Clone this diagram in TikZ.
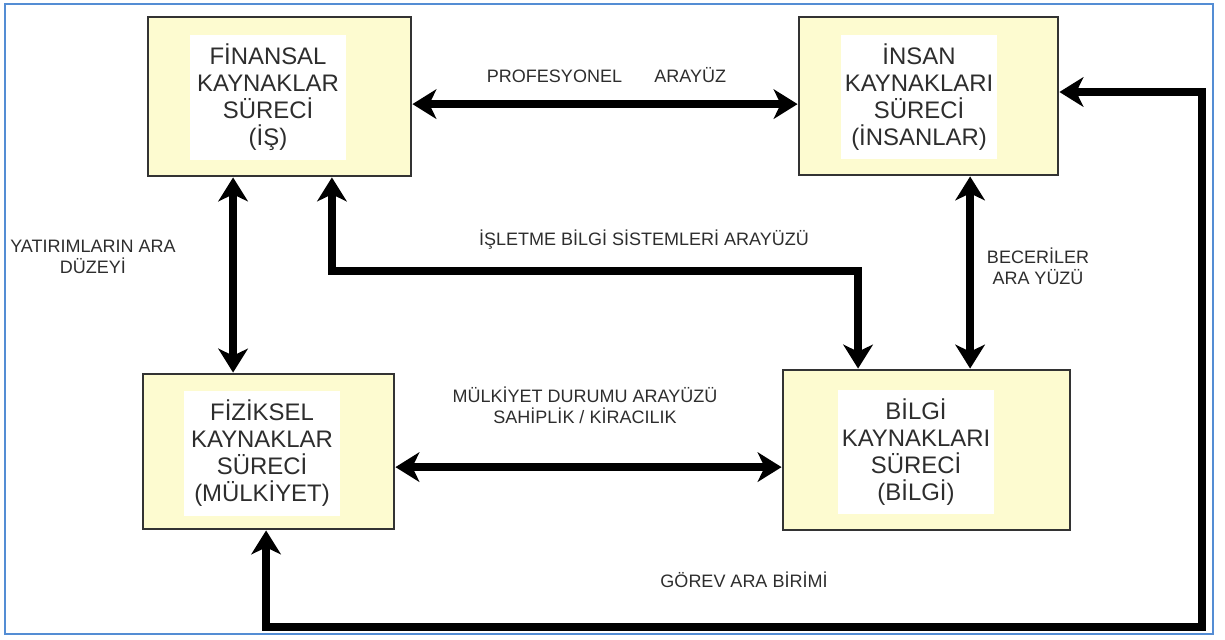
\documentclass[tikz,border=0pt]{standalone}
\usepackage{fontspec}
\setmainfont{Liberation Sans}
\usepackage{xcolor}
\usepackage{tikz}
\usetikzlibrary{arrows.meta}

\definecolor{boxyellow}{RGB}{253,251,208}
\definecolor{frameblue}{RGB}{84,141,212}
\definecolor{txtgray}{RGB}{45,45,45}

\begin{document}
\begin{tikzpicture}[x=0.025cm, y=-0.025cm,
            procbox/.style={draw=black!80, line width=2pt, fill=boxyellow, rectangle, inner sep=0pt},
            proctext/.style={fill=white, align=center, text=txtgray, inner sep=0pt, minimum width=3.9cm, minimum height=3.1cm, font=\fontsize{17}{19.2}\selectfont},
            lbl/.style={align=center, text=txtgray, inner sep=0pt, font=\fontsize{12.8}{15}\selectfont},
            link/.style={line width=6pt, >={Stealth[length=17pt, width=21pt, inset=5pt]}, <->}]
            \useasboundingbox (0,0) rectangle (1225,639);
            \draw[frameblue, line width=1.4pt] (5,4) rectangle (1213,634);

            \node[procbox, minimum width=6.575cm, minimum height=3.975cm] (fin) at (279.5,96.5) {};
            \node[proctext] (fintxt) at (268,97.5) {FİNANSAL\\KAYNAKLAR\\SÜRECİ\\(İŞ)};
            \node[procbox, minimum width=6.475cm, minimum height=3.95cm] (insan) at (928.5,96) {};
            \node[proctext] (insantxt) at (919,97) {İNSAN\\KAYNAKLARI\\SÜRECİ\\(İNSANLAR)};
            \node[procbox, minimum width=6.275cm, minimum height=3.875cm] (fiz) at (268.5,451.5) {};
            \node[proctext] (fiztxt) at (262,453.5) {FİZİKSEL\\KAYNAKLAR\\SÜRECİ\\(MÜLKİYET)};
            \node[procbox, minimum width=7.175cm, minimum height=4cm] (bilgi) at (926.5,450) {};
            \node[proctext] (bilgitxt) at (916,452) {BİLGİ\\KAYNAKLARI\\SÜRECİ\\(BİLGİ)};

            \node[lbl] (lblprof) at (606.5,75) {PROFESYONEL\hspace{23pt}ARAYÜZ};
            \node[lbl] (lblyat) at (93,257) {YATIRIMLARIN ARA\\DÜZEYİ};
            \node[lbl] (lblisl) at (644,240) {İŞLETME BİLGİ SİSTEMLERİ ARAYÜZÜ};
            \node[lbl] (lblbec) at (1038,266) {BECERİLER\\ARA YÜZÜ};
            \node[lbl] (lblmulk) at (585,405) {MÜLKİYET DURUMU ARAYÜZÜ\\SAHİPLİK / KİRACILIK};
            \node[lbl] (lblgorev) at (744,580) {GÖREV ARA BİRİMİ};

            \coordinate (islrow) at (600,271);
            \coordinate (gorevcorner) at (1202,627);

            \draw[link] ([yshift=-0.19cm]fin.east) -- ([yshift=-0.19cm]fin.east -| insan.west);
            \draw[link] ([xshift=-1.16cm]fin.south) -- ([xshift=-1.16cm]fin.south |- fiz.north);
            \draw[link] ([xshift=1.31cm]fin.south) |- (islrow) -| ([xshift=-1.71cm]bilgi.north);
            \draw[link] ([xshift=1.04cm]insan.south) -- ([xshift=1.04cm]insan.south |- bilgi.north);
            \draw[link] ([yshift=-0.39cm]fiz.east) -- ([yshift=-0.39cm]fiz.east -| bilgi.west);
            \draw[link] ([xshift=-0.06cm]fiz.south) |- (gorevcorner) |- ([yshift=0.1cm]insan.east);
        \end{tikzpicture}
\end{document}
